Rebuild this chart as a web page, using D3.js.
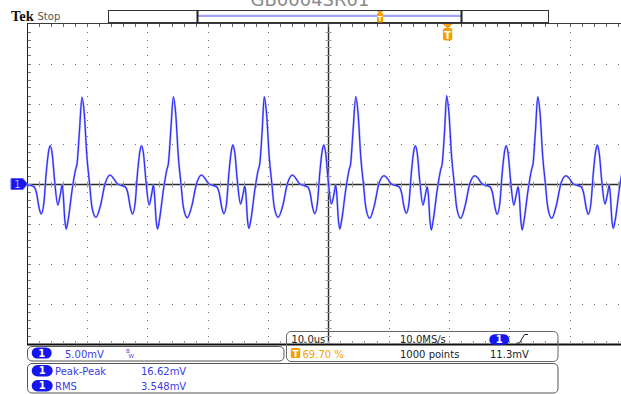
<!DOCTYPE html>
<html>
<head>
<meta charset="utf-8">
<script src="https://cdn.jsdelivr.net/npm/d3@7"></script>
<style>
  html, body { margin: 0; padding: 0; background: #fff; }
  svg { display: block; }
</style>
</head>
<body>
<svg id="scope" width="621" height="394" font-family="DejaVu Sans, sans-serif"></svg>
<script>
// ---------- data (time in µs, voltage in mV) ----------
const cycle0 = [[0,-0.4],[0.26,-0.13],[1.09,-0.34],[1.54,-1.16],[1.92,-2.84],[2.30,-3.75],[2.74,-2.41],[3.13,1.34],[3.57,4.25],[3.79,4.79],[4.12,3.84],[4.52,0.50],[5.06,-2.63],[5.51,-1.16],[5.77,-0.13],[5.94,-1.16],[6.22,-4.50],[6.44,-5.63],[6.77,-4.50],[7.43,-0.75],[7.99,1.75],[8.26,2.59],[8.66,6.75]];
const cycle1 = [[9.06,10.84],[9.44,8.88],[9.89,3.38],[10.32,0.09],[10.72,-2.88],[11.38,-4.16],[12.09,-2.84],[12.92,0.09],[13.75,1.13],[14.29,0.71],[14.85,0.09],[15.40,-0.13],[16.23,-0.34],[16.68,-1.16],[17.06,-2.84],[17.44,-3.75],[17.88,-2.41],[18.27,1.34],[18.71,4.25],[18.93,4.79],[19.26,3.84],[19.66,0.50],[20.20,-2.63],[20.65,-1.16],[20.91,-0.13],[21.08,-1.16],[21.36,-4.50],[21.58,-5.63],[21.91,-4.50],[22.57,-0.75],[23.13,1.75],[23.40,2.59],[23.80,6.75]];
const cycle2 = [[24.22,10.91],[24.60,8.88],[25.05,3.38],[25.48,0.09],[25.88,-2.88],[26.54,-4.20],[27.25,-2.84],[28.08,0.09],[28.91,1.13],[29.45,0.71],[30.01,0.09],[30.56,-0.13],[31.39,-0.34],[31.84,-1.16],[32.22,-2.84],[32.60,-3.70],[33.04,-2.41],[33.43,1.34],[33.87,4.30],[34.09,4.88],[34.42,3.84],[34.82,0.50],[35.36,-2.50],[35.81,-1.16],[36.07,-0.25],[36.24,-1.16],[36.52,-4.50],[36.74,-5.55],[37.07,-4.50],[37.73,-0.75],[38.29,1.75],[38.56,2.59],[38.96,6.75]];
const cycle3 = [[39.29,10.91],[39.67,8.88],[40.12,3.38],[40.55,0.09],[40.95,-2.88],[41.61,-4.16],[42.32,-2.84],[43.15,0.09],[43.98,1.13],[44.52,0.71],[45.08,0.09],[45.63,-0.13],[46.46,-0.34],[46.91,-1.16],[47.29,-2.84],[47.67,-3.70],[48.11,-2.41],[48.50,1.34],[48.94,4.30],[49.16,4.88],[49.49,3.84],[49.89,0.50],[50.43,-2.50],[50.88,-1.16],[51.14,-0.13],[51.31,-1.16],[51.59,-4.50],[51.81,-5.63],[52.14,-4.50],[52.80,-0.75],[53.36,1.75],[53.63,2.59],[54.03,6.75]];
const cycle4 = [[54.47,10.91],[54.85,8.88],[55.30,3.38],[55.73,0.09],[56.13,-2.88],[56.79,-4.29],[57.50,-2.84],[58.33,0.09],[59.16,1.04],[59.70,0.71],[60.26,0.09],[60.81,-0.13],[61.64,-0.34],[62.09,-1.16],[62.47,-2.84],[62.85,-3.66],[63.29,-2.41],[63.68,1.34],[64.12,4.25],[64.34,4.79],[64.67,3.84],[65.07,0.50],[65.61,-2.63],[66.06,-1.16],[66.32,-0.34],[66.49,-1.16],[66.77,-4.50],[66.99,-5.75],[67.32,-4.50],[67.98,-0.75],[68.54,1.75],[68.81,2.59],[69.21,6.75]];
const cycle5 = [[69.54,11.04],[69.92,8.88],[70.37,3.38],[70.80,0.09],[71.20,-2.88],[71.86,-4.29],[72.57,-2.84],[73.40,0.09],[74.23,1.04],[74.77,0.71],[75.33,0.09],[75.88,-0.13],[76.71,-0.34],[77.16,-1.16],[77.54,-2.84],[77.92,-3.79],[78.36,-2.41],[78.75,1.34],[79.19,4.25],[79.41,4.79],[79.74,3.84],[80.14,0.50],[80.68,-2.63],[81.13,-1.16],[81.39,-0.34],[81.56,-1.16],[81.84,-4.50],[82.06,-5.75],[82.39,-4.50],[83.05,-0.75],[83.61,1.75],[83.88,2.59],[84.28,6.75]];
const cycle6 = [[84.65,10.91],[85.03,8.88],[85.48,3.38],[85.91,0.09],[86.31,-2.88],[86.97,-4.29],[87.68,-2.84],[88.51,0.09],[89.34,1.04],[89.88,0.71],[90.44,0.09],[90.99,-0.13],[91.82,-0.34],[92.27,-1.16],[92.65,-2.84],[93.03,-3.79],[93.47,-2.41],[93.86,1.34],[94.30,4.30],[94.52,4.88],[94.85,3.84],[95.25,0.50],[95.79,-2.50],[96.24,-1.16],[96.50,-0.13],[96.67,-1.16],[96.95,-4.50],[97.17,-5.54],[97.50,-4.50],[98.16,-0.75],[98.72,1.75],[98.99,2.59]];

const title = "GB0004SR01";
const scopeState = "Stop";
const verticalScale = "5.00mV";
const timebase = "10.0us";
const sampleRate = "10.0MS/s";
const triggerPercent = 69.70;
const recordLength = "1000 points";
const triggerLevel = "11.3mV";
const measureNames = ["Peak-Peak", "RMS"];
const measureValues = ["16.62mV", "3.548mV"];

// ---------- drawing ----------
const BLUE = "#2a2af5", PILL = "#1616f0", TXTBLUE = "#3b3bee", ORANGE = "#f5a000", INK = "#1c1c1c";
const svg = d3.select("#scope");
svg.append("rect").attr("width", 621).attr("height", 394).attr("fill", "#fff");

const x = d3.scaleLinear().domain([0, 100]).range([27.3, 630.3]);   // 10 µs / div
const y = d3.scaleLinear().domain([-20, 20]).range([344, 24]);      // 5 mV / div
const cx = v => Math.floor(v) + 0.5;

// title (clipped at top, as in the reference)
svg.append("text").attr("x", 310).attr("y", 5.5).attr("text-anchor", "middle")
  .attr("font-size", 18).attr("fill", "#8a8a8a").text(title);

// Tek Stop
svg.append("text").attr("x", 11).attr("y", 20.5)
  .style("font-family", "'Liberation Serif', serif")
  .attr("font-weight", "bold").attr("font-size", 14.5).attr("fill", "#111").text("Tek");
svg.append("text").attr("x", 37.5).attr("y", 20).attr("font-size", 10).attr("fill", "#555").text(scopeState);

// record bar
const bar = svg.append("g");
bar.append("rect").attr("x", 108.5).attr("y", 10.5).attr("width", 440).attr("height", 12)
  .attr("fill", "#fff").attr("stroke", "#333");
bar.append("line").attr("x1", 198).attr("x2", 461).attr("y1", 15.8).attr("y2", 15.8)
  .attr("stroke", "#a3a3ff").attr("stroke-width", 2.2);
[197.5, 461.5].forEach(bx => bar.append("line").attr("x1", bx).attr("x2", bx)
  .attr("y1", 10).attr("y2", 23).attr("stroke", "#222").attr("stroke-width", 2));
bar.append("path").attr("d", "M377,11 H383 L380,14 Z").attr("fill", ORANGE);
bar.append("rect").attr("x", 377).attr("y", 13).attr("width", 6).attr("height", 9.5).attr("rx", 1.2).attr("fill", ORANGE);
bar.append("text").attr("x", 380).attr("y", 20.5).attr("text-anchor", "middle").attr("font-size", 7)
  .attr("font-weight", "bold").attr("fill", "#fff").text("T");

// graticule
const g = svg.append("g");
const xDivs = d3.range(1, 10).filter(i => i !== 5).map(i => x(i * 10));
const yDivs = [-15, -10, -5, 5, 10, 15].map(v => y(v));
const yMinor = d3.range(-20, 20.01, 1).map(v => y(v));   // every 1/5 div
const xMinor = d3.range(0, 100.01, 2).map(v => x(v));

xDivs.forEach(px => yMinor.forEach(py => {
  if (py > 25 && py < 343) g.append("rect").attr("x", Math.floor(px)).attr("y", Math.floor(py)).attr("width", 1).attr("height", 1).attr("fill", "#6f6f6f");
}));
yDivs.forEach(py => xMinor.forEach(px => {
  if (px > 28 && px < 621) g.append("rect").attr("x", Math.floor(px)).attr("y", Math.floor(py)).attr("width", 1).attr("height", 1).attr("fill", "#6f6f6f");
}));

// borders
g.append("line").attr("x1", 27).attr("x2", 621).attr("y1", 23.5).attr("y2", 23.5).attr("stroke", "#3a3a3a");
g.append("line").attr("x1", 27.5).attr("x2", 27.5).attr("y1", 23).attr("y2", 345).attr("stroke", "#222");
g.append("line").attr("x1", 27).attr("x2", 621).attr("y1", 344.5).attr("y2", 344.5).attr("stroke", "#111").attr("stroke-width", 2);
// centre axes
g.append("line").attr("x1", 27).attr("x2", 621).attr("y1", 184.5).attr("y2", 184.5).attr("stroke", "#2a2a2a").attr("stroke-width", 1.4);
g.append("line").attr("x1", cx(x(50))).attr("x2", cx(x(50))).attr("y1", 23).attr("y2", 344).attr("stroke", "#2a2a2a").attr("stroke-width", 1.4);
// minor ticks
xMinor.forEach(px => {
  if (px > 28 && px < 621) {
    g.append("line").attr("x1", cx(px)).attr("x2", cx(px)).attr("y1", 24).attr("y2", 27).attr("stroke", "#666");
    g.append("line").attr("x1", cx(px)).attr("x2", cx(px)).attr("y1", 181.5).attr("y2", 187.5).attr("stroke", "#999");
    g.append("line").attr("x1", cx(px)).attr("x2", cx(px)).attr("y1", 341).attr("y2", 344).attr("stroke", "#999");
  }
});
yMinor.forEach(py => {
  if (py > 25 && py < 343) {
    g.append("line").attr("x1", 28).attr("x2", 31).attr("y1", cx(py)).attr("y2", cx(py)).attr("stroke", "#777");
    g.append("line").attr("x1", cx(x(50)) - 3).attr("x2", cx(x(50)) + 3).attr("y1", cx(py)).attr("y2", cx(py)).attr("stroke", "#999");
  }
});

// trace
svg.append("clipPath").attr("id", "plotClip").append("rect").attr("x", 27).attr("y", 24).attr("width", 594).attr("height", 320);
const trace = [].concat(cycle0, cycle1, cycle2, cycle3, cycle4, cycle5, cycle6);
const line = d3.line().x(d => x(d[0])).y(d => y(d[1])).curve(d3.curveMonotoneX);
svg.append("path").datum(trace).attr("clip-path", "url(#plotClip)").attr("d", line)
  .attr("fill", "none").attr("stroke", "#a8a8ff").attr("stroke-width", 2.1);
svg.append("path").datum(trace).attr("clip-path", "url(#plotClip)").attr("d", line)
  .attr("fill", "none").attr("stroke", BLUE).attr("stroke-width", 1.1);

// channel 1 ground marker
svg.append("path").attr("d", `M11,${y(0) - 5.5} H23 L27.5,${y(0)} L23,${y(0) + 5.5} H11 Z`).attr("fill", PILL).attr("stroke", "#5a5aff");
svg.append("text").attr("x", 17.5).attr("y", y(0) + 4).attr("text-anchor", "middle").attr("font-size", 10).attr("fill", "#b8b8d8").text("1");

// trigger marker (top)
const tx = x(triggerPercent);
svg.append("path").attr("d", `M${tx - 5},24 H${tx + 5} L${tx},28.5 Z`).attr("fill", ORANGE);
svg.append("rect").attr("x", tx - 4.7).attr("y", 28).attr("width", 9.4).attr("height", 12.5).attr("rx", 2.5).attr("fill", ORANGE);
svg.append("text").attr("x", tx).attr("y", 38.5).attr("text-anchor", "middle").attr("font-size", 10).attr("font-weight", "bold").attr("fill", "#fff").text("T");

// ---------- info boxes ----------
function pill(px, py, w, h) {
  svg.append("rect").attr("x", px).attr("y", py).attr("width", w).attr("height", h).attr("rx", h / 2).attr("fill", PILL);
  svg.append("text").attr("x", px + w / 2).attr("y", py + h / 2 + 3.6).attr("text-anchor", "middle")
    .attr("font-size", 10).attr("font-weight", "bold").attr("fill", "#fff").text("1");
}
// horizontal/acquisition box
svg.append("rect").attr("x", 286.5).attr("y", 331.5).attr("width", 271.5).attr("height", 30).attr("rx", 4.5)
  .attr("fill", "none").attr("stroke", "#666");
svg.append("text").attr("x", 291.5).attr("y", 343).attr("font-size", 10).attr("fill", INK).text(timebase);
svg.append("text").attr("x", 400).attr("y", 343).attr("font-size", 10).attr("fill", INK).text(sampleRate);
pill(489.3, 334.3, 20, 10.5);
svg.append("path").attr("d", "M516.5,343 H519.5 L524.5,334.5 H528").attr("fill", "none").attr("stroke", INK);
svg.append("rect").attr("x", 290.8).attr("y", 348).attr("width", 9.4).attr("height", 10).attr("rx", 1.5).attr("fill", ORANGE);
svg.append("text").attr("x", 295.5).attr("y", 356.5).attr("text-anchor", "middle").attr("font-size", 9).attr("font-weight", "bold").attr("fill", "#fff").text("T");
svg.append("text").attr("x", 302.5).attr("y", 357.5).attr("font-size", 10).attr("fill", ORANGE).text(triggerPercent.toFixed(2) + " %");
svg.append("text").attr("x", 400).attr("y", 357.5).attr("font-size", 10).attr("fill", INK).text(recordLength);
svg.append("text").attr("x", 490).attr("y", 357.5).attr("font-size", 10).attr("fill", INK).text(triggerLevel);

// channel box
svg.append("rect").attr("x", 27.5).attr("y", 346.5).attr("width", 256.5).attr("height", 14.5).attr("rx", 4.5)
  .attr("fill", "none").attr("stroke", "#555");
pill(31.7, 347.5, 20, 11);
svg.append("text").attr("x", 65).attr("y", 357.5).attr("font-size", 10).attr("fill", TXTBLUE).text(verticalScale);
svg.append("text").attr("x", 126).attr("y", 353).attr("font-size", 5.5).attr("fill", TXTBLUE).text("B");
svg.append("text").attr("x", 128.5).attr("y", 357.5).attr("font-size", 5.5).attr("fill", TXTBLUE).text("W");

// measurement box
svg.append("rect").attr("x", 27.5).attr("y", 363.5).attr("width", 530.5).attr("height", 29.5).attr("rx", 4.5)
  .attr("fill", "none").attr("stroke", "#555");
measureNames.forEach((name, i) => {
  const by = 365 + i * 15;
  pill(31.7, by, 21, 11.5);
  svg.append("text").attr("x", 55).attr("y", by + 10).attr("font-size", 10).attr("fill", TXTBLUE).text(name);
  svg.append("text").attr("x", 141).attr("y", by + 10).attr("font-size", 10).attr("fill", TXTBLUE).text(measureValues[i]);
});
</script>
</body>
</html>
